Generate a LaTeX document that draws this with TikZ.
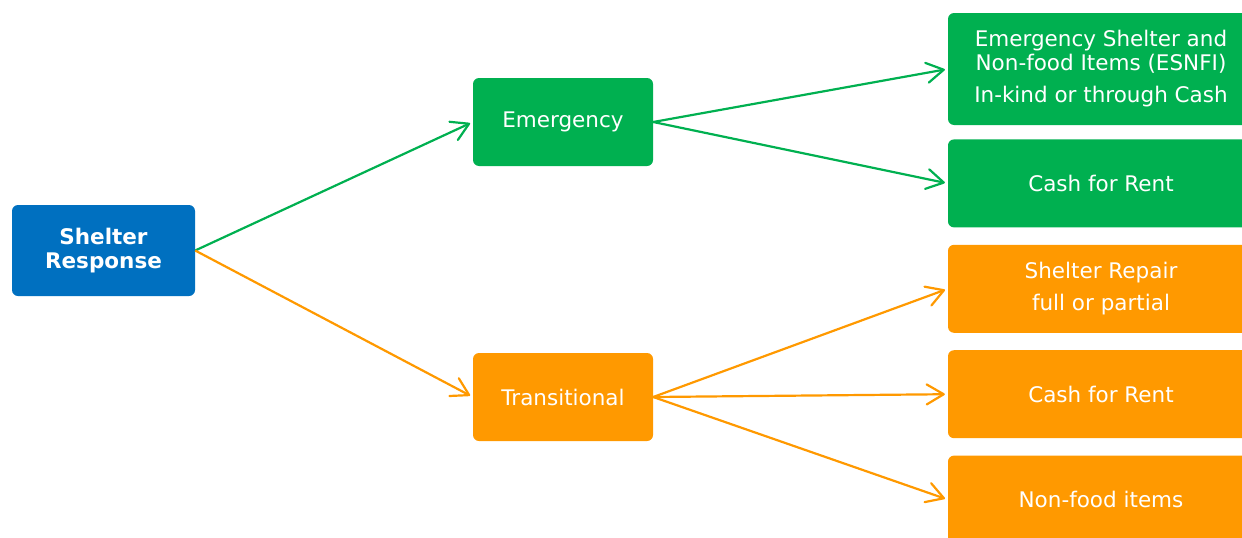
\documentclass[tikz,border=0pt]{standalone}
\usepackage{fontspec}
\setmainfont{DejaVu Sans}
\usetikzlibrary{positioning,arrows.meta}

\definecolor{srblue}{RGB}{0,112,192}
\definecolor{emgreen}{RGB}{0,176,80}
\definecolor{trorange}{RGB}{255,153,0}

\begin{document}
\begin{tikzpicture}[x=1pt,y=-1pt]
\tikzstyle{box} = [rectangle, rounded corners=6pt, text=white, align=center, inner sep=0pt, font=\fontsize{21.5}{24}\selectfont]
\tikzstyle{mid} = [box, minimum width=180pt, minimum height=88pt]
\tikzstyle{leaf} = [box, minimum width=306pt, minimum height=88pt]
\tikzstyle{line} = [line width=2.2pt, >={Straight Barb[length=17pt,width=20pt,round]}, ->, shorten >=3pt]
\useasboundingbox (0,0) rectangle (1242,538);
\clip (0,0) rectangle (1242,538);
% root and the two phases
\node(sr)[box, fill=srblue, minimum width=183pt, minimum height=91pt, font=\fontsize{21.5}{24}\selectfont\bfseries] at (103.5,250.5) {Shelter\\Response};
\node(em)[mid, fill=emgreen] at (563,122) {Emergency};
\node(tr)[mid, fill=trorange] at (563,397) {Transitional};
% right column
\node(esnfi)[leaf, fill=emgreen, minimum height=112pt] at (1101,69) {Emergency Shelter and\\Non-food Items (ESNFI)\\[8pt]In-kind or through Cash};
\node(cashA)[leaf, fill=emgreen, below=14pt of esnfi] {Cash for Rent};
\node(repair)[leaf, fill=trorange, below=17pt of cashA] {Shelter Repair\\[8pt]full or partial};
\node(cashB)[leaf, fill=trorange, below=17pt of repair] {Cash for Rent};
\node(nfi)[leaf, fill=trorange, below=17pt of cashB] {Non-food items};
\draw[line, emgreen] (sr.east) -- (em.west);
\draw[line, trorange] (sr.east) -- (tr.west);
\draw[line, emgreen] (em.east) -- (esnfi.west);
\draw[line, emgreen] (em.east) -- (cashA.west);
\draw[line, trorange] (tr.east) -- (repair.west);
\draw[line, trorange] (tr.east) -- (cashB.west);
\draw[line, trorange] (tr.east) -- (nfi.west);
\end{tikzpicture}
\end{document}
